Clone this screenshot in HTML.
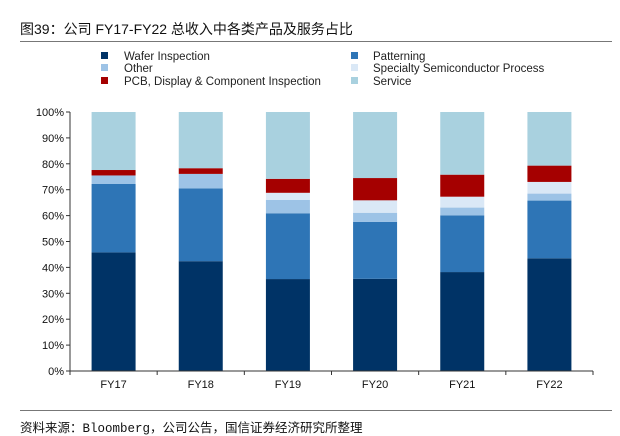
<!DOCTYPE html>
<html><head><meta charset="utf-8"><style>
html,body{margin:0;padding:0;background:#fff;}
body{width:620px;height:434px;position:relative;overflow:hidden;font-family:"Liberation Sans","Noto Sans CJK SC",sans-serif;}
.title{position:absolute;left:20px;top:19px;font-size:14px;color:#111;font-family:"Liberation Sans","Noto Sans CJK SC",sans-serif;}
.hr{position:absolute;left:20px;width:592px;height:1px;background:#777;}
.foot{position:absolute;left:20px;top:417px;font-size:12.5px;color:#111;font-family:"Liberation Mono","Noto Sans CJK SC",monospace;}
</style></head><body>
<div class="title">图39：公司 FY17-FY22 总收入中各类产品及服务占比</div>
<div class="hr" style="top:41px"></div>
<svg id="chart" width="620" height="434" style="position:absolute;left:0;top:0"></svg>
<div class="hr" style="top:410px"></div>
<div class="foot">资料来源：Bloomberg，公司公告，国信证券经济研究所整理</div>
<script>
const categories=["FY17","FY18","FY19","FY20","FY21","FY22"];
const seriesNames=["Wafer Inspection","Patterning","Other","Specialty Semiconductor Process","PCB, Display & Component Inspection","Service"];
const wafer=[45.8,42.4,35.5,35.6,38.2,43.5];
const patterning=[26.4,28.1,25.4,22.0,21.9,22.3];
const other=[3.3,5.6,5.2,3.5,3.0,2.7];
const specialty=[0,0,2.7,4.8,4.2,4.5];
const pcb=[2.1,2.2,5.4,8.6,8.5,6.3];
const service=[22.4,21.7,25.8,25.5,24.2,20.7];
const yTicks=["0%","10%","20%","30%","40%","50%","60%","70%","80%","90%","100%"];
const colors=["#003366","#2e75b6","#9dc3e6","#dae8f6","#a50000","#a9d1df"];
const series=[wafer,patterning,other,specialty,pcb,service];
const NS="http://www.w3.org/2000/svg";
const svg=document.getElementById('chart');
const x0=70,x1=593,yBase=371,yTop=112;
const y=v=>yBase-(v/100)*(yBase-yTop);
const bw=(x1-x0)/categories.length;
const xc=i=>x0+bw*(i+0.5);
function mk(t,a){const e=document.createElementNS(NS,t);for(const k in a)e.setAttribute(k,a[k]);svg.appendChild(e);return e;}
categories.forEach((c,i)=>{let acc=0;
 series.forEach((s,j)=>{const v=s[i];if(v<=0){return;}
  const r=mk('rect',{x:xc(i)-22,y:y(acc+v),width:44,height:y(acc)-y(acc+v),fill:colors[j]});
  
  
  acc+=v;});
 const t=mk('text',{x:xc(i),y:388,'text-anchor':'middle','font-size':11,fill:'#111'});t.textContent=c;
 
 
});
const ya=mk('line',{x1:x0,y1:yTop,x2:x0,y2:yBase,stroke:'#333','stroke-width':1});


const xa=mk('line',{x1:x0,y1:yBase,x2:x1,y2:yBase,stroke:'#333','stroke-width':1});


yTicks.forEach((l,i)=>{const v=i*10;
 mk('line',{x1:x0-4,y1:y(v),x2:x0,y2:y(v),stroke:'#333'});
 const t=mk('text',{x:x0-6,y:y(v)+4,'text-anchor':'end','font-size':11,fill:'#111'});t.textContent=l;
 
 
});
for(let i=0;i<=categories.length;i++){mk('line',{x1:x0+bw*i,y1:yBase,x2:x0+bw*i,y2:yBase+4,stroke:'#333'});}
const legPos=[[101,124,56],[351,373,56],[101,124,68],[351,373,68],[101,124,81],[351,373,81]];
seriesNames.forEach((n,j)=>{const p=legPos[j];
 const r=mk('rect',{x:p[0],y:p[2]-4,width:7,height:7,fill:colors[j]});
 
 
 const t=mk('text',{x:p[1],y:p[2]+4,'font-size':11.5,fill:'#222'});t.textContent=n;
 
 
});
</script>
</body></html>
